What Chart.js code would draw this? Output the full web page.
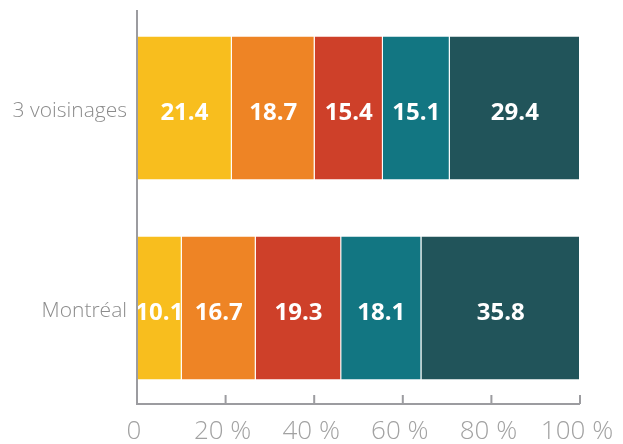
<!DOCTYPE html>
<html>
<head>
<meta charset="utf-8">
<script src="https://cdn.jsdelivr.net/npm/chart.js@4/dist/chart.umd.min.js"></script>
<style>
  html, body { margin: 0; padding: 0; background: #fff; }
  #wrap { width: 623px; height: 444px; position: relative; }
</style>
</head>
<body>
<div id="wrap"><canvas id="c"></canvas></div>
<script>
// Categories and share (%) of each group, stacked to 100 %
const categories = ['3 voisinages', 'Montréal'];
const group1 = [21.4, 10.1];
const group2 = [18.7, 16.7];
const group3 = [15.4, 19.3];
const group4 = [15.1, 18.1];
const group5 = [29.4, 35.8];
const xTicks = [0, 20, 40, 60, 80, 100];

const colors = ['#F8BE1E', '#EE8425', '#CE4029', '#127682', '#21545A'];
const series = [group1, group2, group3, group4, group5];
const axisGray = '#9c9ca0';

const datasets = series.map((vals, i) => ({
  data: vals,
  backgroundColor: colors[i],
  borderColor: '#ffffff',
  borderWidth: { right: 1, left: 0, top: 0, bottom: 0 },
  borderSkipped: false,
  barPercentage: 0.715,
  categoryPercentage: 1.0
}));

// White value labels centred in each segment
const valueLabels = {
  id: 'valueLabels',
  afterDatasetsDraw(chart) {
    const ctx = chart.ctx;
    ctx.save();
    ctx.fillStyle = '#ffffff';
    ctx.font = '700 24px "Open Sans"';
    ctx.textAlign = 'center';
    ctx.textBaseline = 'middle';
    chart.data.datasets.forEach((ds, di) => {
      const meta = chart.getDatasetMeta(di);
      meta.data.forEach((bar, i) => {
        const p = bar.getCenterPoint();
        ctx.fillText(ds.data[i].toFixed(1), p.x, p.y + 5);
      });
    });
    ctx.restore();
  }
};

// Axis lines with inward tick marks
const axisFrame = {
  id: 'axisFrame',
  afterDraw(chart) {
    const ctx = chart.ctx;
    const x = chart.scales.x;
    const a = chart.chartArea;
    const base = a.bottom - 4;
    ctx.save();
    ctx.strokeStyle = axisGray;
    ctx.lineWidth = 2;
    ctx.beginPath();
    ctx.moveTo(a.left, a.top + 2);
    ctx.lineTo(a.left, base);
    ctx.lineTo(a.right, base);
    xTicks.forEach(v => {
      const px = x.getPixelForValue(v);
      ctx.moveTo(px, base);
      ctx.lineTo(px, base - 9);
    });
    ctx.stroke();
    ctx.restore();
  }
};

new Chart(document.getElementById('c'), {
  type: 'bar',
  data: { labels: categories, datasets },
  plugins: [valueLabels, axisFrame],
  options: {
    indexAxis: 'y',
    responsive: true,
    maintainAspectRatio: false,
    animation: false,
    layout: { padding: { top: 8, right: 43, left: 0, bottom: 0 } },
    plugins: { legend: { display: false }, tooltip: { enabled: false } },
    scales: {
      x: {
        stacked: true,
        min: 0,
        max: 100,
        afterBuildTicks(scale) { scale.ticks = xTicks.map(v => ({ value: v })); },
        afterFit(scale) {
          scale.height = 36;
          scale.paddingLeft = 0;
          scale.paddingRight = 0;
        },
        grid: { display: false, drawTicks: false },
        border: { display: false },
        ticks: {
          padding: 8,
          labelOffset: -3,
          color: '#a2a2a2',
          font: { family: 'Open Sans', size: 26, weight: '300' },
          callback: v => (v === 0 ? '0' : v + ' %')
        }
      },
      y: {
        stacked: true,
        afterFit(scale) {
          scale.width = 137;
          scale.paddingTop = 0;
          scale.paddingBottom = 0;
        },
        grid: { display: false, drawTicks: false },
        border: { display: false },
        ticks: {
          padding: 10,
          labelOffset: 3,
          color: '#8c8c8c',
          font: { family: 'Open Sans', size: 21, weight: '300' }
        }
      }
    }
  }
});
</script>
</body>
</html>
